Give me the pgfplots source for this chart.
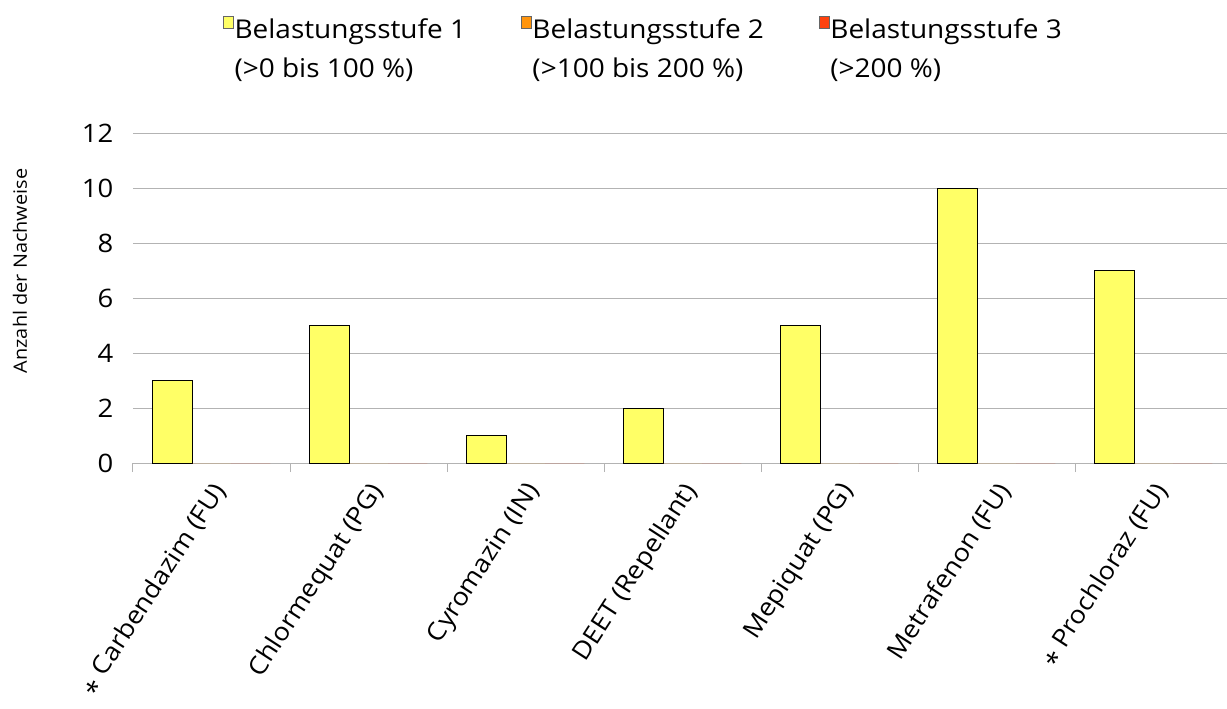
\documentclass[border=0pt]{standalone}
\usepackage{fontspec}
\setmainfont{Open Sans}[FakeStretch=1.08]
\usepackage{pgfplots}
\pgfplotsset{compat=1.18}
\definecolor{cA}{HTML}{FFFF66}
\definecolor{cB}{HTML}{FF950E}
\definecolor{cC}{HTML}{FF420E}
\definecolor{gridc}{HTML}{B3B3B3}
\begin{document}
\begin{tikzpicture}
\useasboundingbox (-133bp,-246bp) rectangle (1094bp,463bp);
\begin{axis}[
  scale only axis, width=1094bp, height=330bp,
  xmin=-0.5, xmax=6.468, ymin=0, ymax=12,
  ybar, bar width=39.3bp,
  axis x line=bottom, axis y line=left,
  x axis line style={-, draw=gridc, line width=1bp},
  y axis line style={draw=none},
  ytick={0,2,...,12},
  ymajorgrids, grid style={draw=gridc, line width=1bp},
  ytick style={draw=none},
  yticklabel style={font=\fontsize{25.5}{30}\selectfont, xshift=-12bp},
  /pgf/number format/assume math mode=true,
  xtick={0,...,6},
  xticklabels={\raisebox{-0.3em}{*} Carbendazim (FU),Chlormequat (PG),Cyromazin (IN),DEET (Repellant),Mepiquat (PG),Metrafenon (FU),\raisebox{-0.3em}{*} Prochloraz (FU)},
  major x tick style={draw=none},
  minor xtick={-0.5,0.5,...,6.5},
  minor x tick style={draw=gridc, line width=1bp},
  minor tick length=9bp,
  tick align=outside,
  xticklabel style={xshift=-2bp, yshift=-8bp, rotate=57, anchor=north east, font=\fontsize{25}{28}\selectfont},
  ylabel={Anzahl der Nachweise},
  ylabel style={at={(axis description cs:-0.1033,0.582)}, anchor=center, font=\fontsize{18.5}{22}\selectfont},
  legend image code/.code={\draw[#1, draw=black!60] (0bp,-3bp) rectangle (10bp,9bp);},
  legend columns=3,
  legend cell align=left,
  legend style={at={(axis description cs:0.0795,1.385)}, anchor=north west, draw=none, fill=none,
    font=\fontsize{26}{40}\selectfont, nodes={inner xsep=1bp},
    /tikz/every even column/.append style={column sep=54bp}},
]
\addplot[fill=cA, draw=black, bar shift=-39.3bp] coordinates {(0,3) (1,5) (2,1) (3,2) (4,5) (5,10) (6,7)};
\addlegendentry{\begin{tabular}[t]{@{}l@{}}Belastungsstufe 1\\(>0 bis 100 \%)\end{tabular}}
\addplot[fill=cB, draw=none, bar shift=0bp] coordinates {(0,0) (1,0) (2,0) (3,0) (4,0) (5,0) (6,0)};
\addlegendentry{\begin{tabular}[t]{@{}l@{}}Belastungsstufe 2\\(>100 bis 200 \%)\end{tabular}}
\addplot[fill=cC, draw=none, bar shift=39.3bp] coordinates {(0,0) (1,0) (2,0) (3,0) (4,0) (5,0) (6,0)};
\addlegendentry{\begin{tabular}[t]{@{}l@{}}Belastungsstufe 3\\(>200 \%)\end{tabular}}
\end{axis}
\end{tikzpicture}
\end{document}
